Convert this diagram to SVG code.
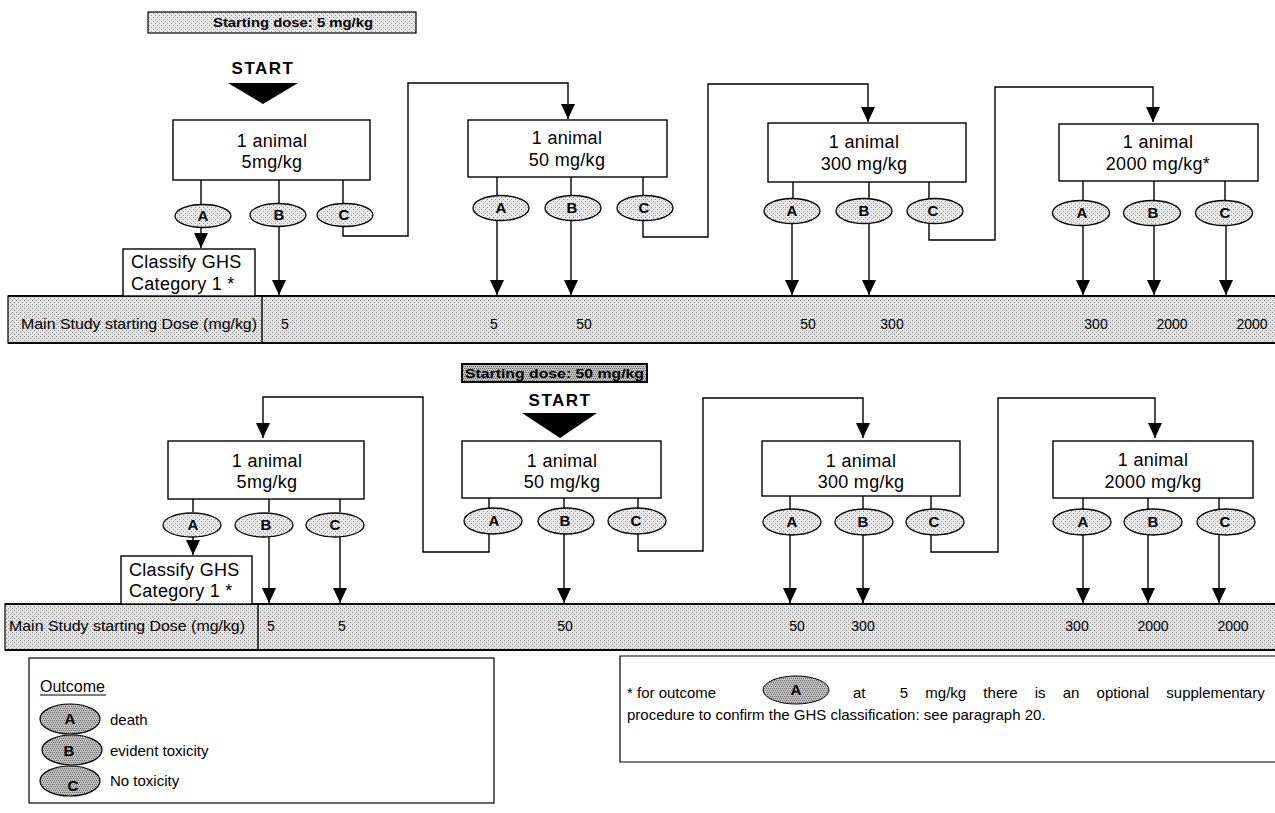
<svg xmlns="http://www.w3.org/2000/svg" width="1275" height="813" viewBox="0 0 1275 813">
  <defs>
    <marker id="arrow" markerUnits="userSpaceOnUse" markerWidth="15" markerHeight="14" refX="15" refY="7" orient="auto">
      <path d="M0,0 L15,7 L0,14 Z" fill="#000"/>
    </marker>
    <!-- halftone shading used for bands and outcome ovals -->
    <pattern id="tone" width="4" height="4" patternUnits="userSpaceOnUse">
      <rect width="4" height="4" fill="#e2e2e2"/>
      <rect x="0" y="0" width="1" height="1" fill="#8c8c8c"/>
      <rect x="2" y="2" width="1" height="1" fill="#8c8c8c"/>
    </pattern>
    <pattern id="toneLight" width="4" height="4" patternUnits="userSpaceOnUse">
      <rect width="4" height="4" fill="#e8e8e8"/>
      <rect x="1" y="1" width="1" height="1" fill="#999"/>
      <rect x="3" y="3" width="1" height="1" fill="#999"/>
    </pattern>
    <pattern id="toneDark" width="4" height="4" patternUnits="userSpaceOnUse">
      <rect width="4" height="4" fill="#bdbdbd"/>
      <rect x="0" y="0" width="1" height="1" fill="#6e6e6e"/>
      <rect x="2" y="0" width="1" height="1" fill="#6e6e6e"/>
      <rect x="1" y="2" width="1" height="1" fill="#6e6e6e"/>
      <rect x="3" y="2" width="1" height="1" fill="#6e6e6e"/>
    </pattern>
    <style>
      text { font-family: "Liberation Sans", Arial, sans-serif; fill: #000; }
      .box { fill: #fff; stroke: #000; stroke-width: 1.4; }
      .lbl { font-size: 18px; text-anchor: middle; letter-spacing: 0.3px; }
      .cls { font-size: 18px; letter-spacing: 0.3px; }
      .oc { fill: url(#toneLight); stroke: #000; stroke-width: 1.3; }
      .ocl { font-size: 15px; font-weight: bold; text-anchor: middle; }
      .band { fill: url(#tone); stroke: #000; stroke-width: 1.2; }
      .bandEdge { stroke: #000; stroke-width: 2; }
      .tbl { font-size: 15px; }
      .val { font-size: 14px; text-anchor: middle; }
      .start { font-size: 17px; font-weight: bold; text-anchor: middle; letter-spacing: 1.5px; }
      .sd { font-size: 13px; font-weight: bold; }
      .wire { fill: none; stroke: #000; stroke-width: 1.4; }
      .leg { font-size: 15px; }
      .legHead { font-size: 16px; }
      .legEl { fill: url(#toneDark); stroke: #000; stroke-width: 1.2; }
      .note { font-size: 15px; }
      .noteJust { font-size: 15px; word-spacing: 13px; white-space: pre; }
    </style>
  </defs>

  <!-- ===== Section 1: starting dose 5 mg/kg ===== -->
  <g id="start-dose-5">
    <rect x="148" y="12" width="268" height="21" fill="url(#toneLight)" stroke="#000" stroke-width="1.2"/>
    <text class="sd" x="213" y="27" textLength="160" lengthAdjust="spacingAndGlyphs">Starting dose: 5 mg/kg</text>
  </g>
  <g id="start-1">
    <text class="start" x="263" y="74">START</text>
    <polygon points="228,83 298,83 263,104" fill="#000"/>
  </g>

  <!-- results band, section 1 -->
  <g id="band-1">
    <rect class="band" x="8" y="296" width="1280" height="47"/>
    <line class="bandEdge" x1="8" y1="296" x2="1275" y2="296"/>
    <line class="bandEdge" x1="8" y1="343" x2="1275" y2="343"/>
    <line x1="262" y1="296" x2="262" y2="343" stroke="#000" stroke-width="1.4"/>
    <text class="tbl" x="21" y="329" textLength="236" lengthAdjust="spacingAndGlyphs">Main Study starting Dose (mg/kg)</text>
    <text class="val" x="285" y="329">5</text>
    <text class="val" x="494" y="329">5</text>
    <text class="val" x="584" y="329">50</text>
    <text class="val" x="808" y="329">50</text>
    <text class="val" x="892" y="329">300</text>
    <text class="val" x="1096" y="329">300</text>
    <text class="val" x="1172" y="329">2000</text>
    <text class="val" x="1252" y="329">2000</text>
  </g>

  <!-- ===== Section 2: starting dose 50 mg/kg ===== -->
  <g id="start-dose-50">
    <rect x="462" y="364" width="185" height="18" fill="url(#toneDark)" stroke="#000" stroke-width="2"/>
    <text class="sd" x="465" y="378" textLength="179" lengthAdjust="spacingAndGlyphs">Starting dose: 50 mg/kg</text>
  </g>
  <g id="start-2">
    <text class="start" x="560" y="406">START</text>
    <polygon points="522,413 597,413 560,438" fill="#000"/>
  </g>

  <g id="band-2">
    <rect class="band" x="5" y="604" width="1280" height="46"/>
    <line class="bandEdge" x1="5" y1="604" x2="1275" y2="604"/>
    <line class="bandEdge" x1="5" y1="650" x2="1275" y2="650"/>
    <line x1="258" y1="604" x2="258" y2="650" stroke="#000" stroke-width="1.4"/>
    <text class="tbl" x="9" y="631" textLength="236" lengthAdjust="spacingAndGlyphs">Main Study starting Dose (mg/kg)</text>
    <text class="val" x="271" y="631">5</text>
    <text class="val" x="342" y="631">5</text>
    <text class="val" x="565" y="631">50</text>
    <text class="val" x="797" y="631">50</text>
    <text class="val" x="863" y="631">300</text>
    <text class="val" x="1077" y="631">300</text>
    <text class="val" x="1153" y="631">2000</text>
    <text class="val" x="1233" y="631">2000</text>
  </g>

  <!-- ===== Connectors ===== -->
  <g id="connectors" class="wire">
    <!-- section 1, 5 mg/kg -->
    <path d="M201,180 V205 M279,180 V203 M343,180 V203"/>
    <path d="M201,226 V248" marker-end="url(#arrow)"/>
    <path d="M279,226 V295" marker-end="url(#arrow)"/>
    <path d="M343,226 V236 H408 V83 H568 V119" marker-end="url(#arrow)"/>
    <!-- section 1, 50 mg/kg -->
    <path d="M497,177 V196 M571,177 V196 M643,177 V196"/>
    <path d="M497,220 V295" marker-end="url(#arrow)"/>
    <path d="M571,220 V295" marker-end="url(#arrow)"/>
    <path d="M643,220 V237 H708 V84 H868 V122" marker-end="url(#arrow)"/>
    <!-- section 1, 300 mg/kg -->
    <path d="M793,182 V199 M869,182 V199 M929,182 V199"/>
    <path d="M792,223 V295" marker-end="url(#arrow)"/>
    <path d="M869,223 V295" marker-end="url(#arrow)"/>
    <path d="M929,223 V240 H995 V87 H1153 V122" marker-end="url(#arrow)"/>
    <!-- section 1, 2000 mg/kg -->
    <path d="M1083,181 V200 M1154,181 V200 M1225,181 V200"/>
    <path d="M1083,225 V295" marker-end="url(#arrow)"/>
    <path d="M1154,225 V295" marker-end="url(#arrow)"/>
    <path d="M1226,225 V295" marker-end="url(#arrow)"/>

    <!-- section 2, 5 mg/kg -->
    <path d="M193,499 V512 M269,499 V512 M340,499 V512"/>
    <path d="M193,536 V555" marker-end="url(#arrow)"/>
    <path d="M269,536 V603" marker-end="url(#arrow)"/>
    <path d="M340,536 V603" marker-end="url(#arrow)"/>
    <!-- section 2, 50 mg/kg -->
    <path d="M489,498 V509 M564,498 V509 M638,498 V509"/>
    <path d="M489,534 V552 H423 V397 H263 V438" marker-end="url(#arrow)"/>
    <path d="M564,534 V603" marker-end="url(#arrow)"/>
    <path d="M638,534 V551 H703 V398 H863 V438" marker-end="url(#arrow)"/>
    <!-- section 2, 300 mg/kg -->
    <path d="M790,496 V509 M863,496 V509 M931,496 V509"/>
    <path d="M790,534 V603" marker-end="url(#arrow)"/>
    <path d="M863,534 V603" marker-end="url(#arrow)"/>
    <path d="M931,534 V552 H998 V398 H1155 V438" marker-end="url(#arrow)"/>
    <!-- section 2, 2000 mg/kg -->
    <path d="M1083,498 V509 M1148,498 V509 M1219,498 V509"/>
    <path d="M1083,534 V603" marker-end="url(#arrow)"/>
    <path d="M1148,534 V603" marker-end="url(#arrow)"/>
    <path d="M1219,534 V603" marker-end="url(#arrow)"/>
  </g>

  <!-- ===== Section 1 nodes ===== -->
  <g id="s1-dose-5">
    <rect class="box" x="173" y="120" width="197" height="60"/>
    <text class="lbl" x="272" y="147">1 animal</text>
    <text class="lbl" x="272" y="168">5mg/kg</text>
  </g>
  <g id="s1-dose-5-A"><ellipse class="oc" cx="203" cy="216" rx="28" ry="11.5"/><text class="ocl" x="203" y="221">A</text></g>
  <g id="s1-dose-5-B"><ellipse class="oc" cx="278" cy="215" rx="28" ry="11.5"/><text class="ocl" x="279" y="220">B</text></g>
  <g id="s1-dose-5-C"><ellipse class="oc" cx="345" cy="215" rx="28" ry="11.5"/><text class="ocl" x="344" y="220">C</text></g>
  <g id="s1-classify">
    <rect class="box" x="123" y="249" width="132" height="47"/>
    <text class="cls" x="131" y="268">Classify GHS</text>
    <text class="cls" x="131" y="290">Category 1 *</text>
  </g>

  <g id="s1-dose-50">
    <rect class="box" x="468" y="120" width="199" height="57"/>
    <text class="lbl" x="567" y="144">1 animal</text>
    <text class="lbl" x="567" y="166">50 mg/kg</text>
  </g>
  <g id="s1-dose-50-A"><ellipse class="oc" cx="501" cy="208" rx="28" ry="12.5"/><text class="ocl" x="501" y="213">A</text></g>
  <g id="s1-dose-50-B"><ellipse class="oc" cx="573" cy="208" rx="28" ry="12.5"/><text class="ocl" x="572" y="213">B</text></g>
  <g id="s1-dose-50-C"><ellipse class="oc" cx="645" cy="208" rx="28" ry="12.5"/><text class="ocl" x="644" y="213">C</text></g>

  <g id="s1-dose-300">
    <rect class="box" x="768" y="123" width="198" height="59"/>
    <text class="lbl" x="864" y="148">1 animal</text>
    <text class="lbl" x="864" y="170">300 mg/kg</text>
  </g>
  <g id="s1-dose-300-A"><ellipse class="oc" cx="792" cy="211" rx="28" ry="12.5"/><text class="ocl" x="792" y="216">A</text></g>
  <g id="s1-dose-300-B"><ellipse class="oc" cx="864" cy="211" rx="28" ry="12.5"/><text class="ocl" x="864" y="216">B</text></g>
  <g id="s1-dose-300-C"><ellipse class="oc" cx="935" cy="211" rx="28" ry="12.5"/><text class="ocl" x="933" y="216">C</text></g>

  <g id="s1-dose-2000">
    <rect class="box" x="1059" y="124" width="199" height="57"/>
    <text class="lbl" x="1158" y="148">1 animal</text>
    <text class="lbl" x="1158" y="170">2000 mg/kg*</text>
  </g>
  <g id="s1-dose-2000-A"><ellipse class="oc" cx="1081" cy="213" rx="28.5" ry="12.5"/><text class="ocl" x="1082" y="218">A</text></g>
  <g id="s1-dose-2000-B"><ellipse class="oc" cx="1152" cy="213" rx="28.5" ry="12.5"/><text class="ocl" x="1153" y="218">B</text></g>
  <g id="s1-dose-2000-C"><ellipse class="oc" cx="1224" cy="213" rx="28.5" ry="12.5"/><text class="ocl" x="1225" y="218">C</text></g>

  <!-- ===== Section 2 nodes ===== -->
  <g id="s2-dose-5">
    <rect class="box" x="168" y="441" width="196" height="58"/>
    <text class="lbl" x="267" y="467">1 animal</text>
    <text class="lbl" x="267" y="488">5mg/kg</text>
  </g>
  <g id="s2-dose-5-A"><ellipse class="oc" cx="192" cy="525" rx="29" ry="12"/><text class="ocl" x="193" y="530">A</text></g>
  <g id="s2-dose-5-B"><ellipse class="oc" cx="264" cy="525" rx="29" ry="12"/><text class="ocl" x="266" y="530">B</text></g>
  <g id="s2-dose-5-C"><ellipse class="oc" cx="335" cy="525" rx="29" ry="12"/><text class="ocl" x="335" y="530">C</text></g>
  <g id="s2-classify">
    <rect class="box" x="121" y="556" width="131" height="48"/>
    <text class="cls" x="129" y="576">Classify GHS</text>
    <text class="cls" x="129" y="597">Category 1 *</text>
  </g>

  <g id="s2-dose-50">
    <rect class="box" x="462" y="441" width="199" height="57"/>
    <text class="lbl" x="562" y="467">1 animal</text>
    <text class="lbl" x="562" y="488">50 mg/kg</text>
  </g>
  <g id="s2-dose-50-A"><ellipse class="oc" cx="493" cy="521" rx="29" ry="13"/><text class="ocl" x="494" y="526">A</text></g>
  <g id="s2-dose-50-B"><ellipse class="oc" cx="566" cy="521" rx="28" ry="13"/><text class="ocl" x="565" y="526">B</text></g>
  <g id="s2-dose-50-C"><ellipse class="oc" cx="637" cy="521" rx="29" ry="13"/><text class="ocl" x="636" y="526">C</text></g>

  <g id="s2-dose-300">
    <rect class="box" x="762" y="441" width="198" height="55"/>
    <text class="lbl" x="861" y="467">1 animal</text>
    <text class="lbl" x="861" y="488">300 mg/kg</text>
  </g>
  <g id="s2-dose-300-A"><ellipse class="oc" cx="792" cy="522" rx="29" ry="13"/><text class="ocl" x="792" y="527">A</text></g>
  <g id="s2-dose-300-B"><ellipse class="oc" cx="864" cy="522" rx="29" ry="13"/><text class="ocl" x="863" y="527">B</text></g>
  <g id="s2-dose-300-C"><ellipse class="oc" cx="935" cy="522" rx="29" ry="13"/><text class="ocl" x="934" y="527">C</text></g>

  <g id="s2-dose-2000">
    <rect class="box" x="1053" y="441" width="200" height="57"/>
    <text class="lbl" x="1153" y="466">1 animal</text>
    <text class="lbl" x="1153" y="488">2000 mg/kg</text>
  </g>
  <g id="s2-dose-2000-A"><ellipse class="oc" cx="1082" cy="522" rx="29" ry="13"/><text class="ocl" x="1083" y="527">A</text></g>
  <g id="s2-dose-2000-B"><ellipse class="oc" cx="1153" cy="522" rx="29" ry="13"/><text class="ocl" x="1153" y="527">B</text></g>
  <g id="s2-dose-2000-C"><ellipse class="oc" cx="1226" cy="522" rx="29" ry="13"/><text class="ocl" x="1225" y="527">C</text></g>

  <!-- ===== Legend ===== -->
  <g id="legend">
    <rect x="29" y="658" width="465" height="145" fill="#fff" stroke="#000" stroke-width="1.2"/>
    <text class="legHead" x="40" y="692">Outcome</text>
    <line x1="40" y1="695" x2="106" y2="695" stroke="#000" stroke-width="1"/>
    <ellipse class="legEl" cx="70" cy="719" rx="30" ry="15"/>
    <text class="ocl" x="70" y="724" font-weight="normal">A</text>
    <text class="leg" x="110" y="725">death</text>
    <ellipse class="legEl" cx="72" cy="750" rx="30" ry="15"/>
    <text class="ocl" x="69" y="756" font-weight="normal">B</text>
    <text class="leg" x="110" y="756">evident toxicity</text>
    <ellipse class="legEl" cx="70" cy="781" rx="30" ry="15"/>
    <text class="ocl" x="73" y="791" font-weight="normal">C</text>
    <text class="leg" x="110" y="786">No toxicity</text>
  </g>

  <!-- ===== Footnote ===== -->
  <g id="footnote">
    <polyline points="1275,656 620,656 620,762 1275,762" fill="#fff" stroke="#000" stroke-width="1.2"/>
    <text class="note" x="627" y="698">* for outcome</text>
    <ellipse cx="796" cy="690" rx="33" ry="14" fill="url(#toneDark)" stroke="#000" stroke-width="1"/>
    <text class="ocl" x="796" y="695" font-weight="normal">A</text>
    <text class="noteJust" x="853" y="698">at  5 mg/kg there is an optional supplementary</text>
    <text class="note" x="627" y="720">procedure to confirm the GHS classification: see paragraph 20.</text>
  </g>
</svg>
